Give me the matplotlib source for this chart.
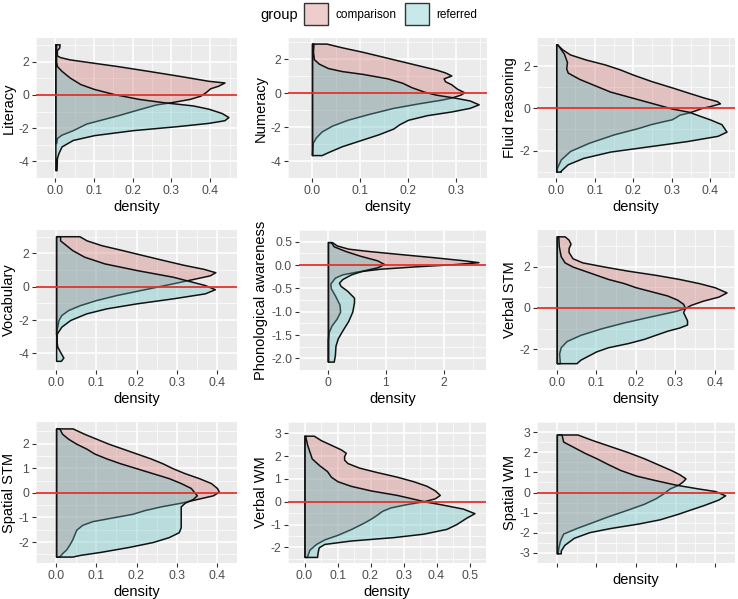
import matplotlib
matplotlib.use("Agg")
import matplotlib.pyplot as plt
from matplotlib.patches import Rectangle

plt.rcParams['font.family'] = ['Liberation Sans', 'DejaVu Sans']
plt.rcParams['axes.unicode_minus'] = False

# (score, density) pairs for each group
literacy_cmp = [(3.05, 0.011), (2.85, 0.010), (2.70, 0.004), (2.38, 0.004), (2.28, 0.012), (2.14, 0.037),
                (1.98, 0.086), (1.74, 0.16), (1.45, 0.24), (1.15, 0.32), (0.85, 0.396), (0.75, 0.437),
                (0.55, 0.42), (0.40, 0.40), (0.16, 0.388), (-0.04, 0.375), (-0.24, 0.347), (-0.44, 0.298),
                (-0.57, 0.26), (-0.83, 0.22), (-1.23, 0.16), (-1.72, 0.08), (-2.12, 0.045), (-2.4, 0.015),
                (-2.6, 0.004), (-2.9, 0.002)]
literacy_ref = [(3.05, 0.002), (2.0, 0.002), (1.74, 0.004), (1.45, 0.016), (1.05, 0.037), (0.65, 0.065),
                (0.36, 0.10), (0.06, 0.15), (-0.24, 0.216), (-0.44, 0.28), (-0.63, 0.355), (-0.83, 0.396),
                (-1.09, 0.43), (-1.33, 0.447), (-1.52, 0.437), (-1.68, 0.396), (-1.88, 0.314), (-2.12, 0.20),
                (-2.42, 0.10), (-2.71, 0.045), (-3.1, 0.016), (-3.5, 0.008), (-3.8, 0.004), (-4.53, 0.003)]

numeracy_cmp = [(2.92, 0.030), (2.70, 0.062), (2.43, 0.106), (2.17, 0.144), (1.91, 0.182), (1.65, 0.22),
                (1.39, 0.258), (1.22, 0.277), (1.04, 0.29), (0.87, 0.274), (0.70, 0.277), (0.52, 0.29),
                (0.26, 0.302), (0.05, 0.317), (-0.09, 0.309), (-0.26, 0.29), (-0.38, 0.27), (-0.61, 0.22),
                (-0.87, 0.169), (-1.22, 0.119), (-1.57, 0.074), (-1.91, 0.042), (-2.26, 0.02), (-2.61, 0.008),
                (-2.96, 0.001), (-3.65, 0.0)]
numeracy_ref = [(2.92, 0.003), (2.43, 0.002), (2.0, 0.004), (1.74, 0.014), (1.48, 0.033), (1.30, 0.062),
                (1.13, 0.106), (0.87, 0.157), (0.61, 0.188), (0.35, 0.207), (0.09, 0.233), (-0.09, 0.258),
                (-0.26, 0.296), (-0.43, 0.328), (-0.66, 0.347), (-0.87, 0.328), (-1.08, 0.29), (-1.30, 0.239),
                (-1.57, 0.20), (-1.83, 0.182), (-2.09, 0.169), (-2.43, 0.138), (-2.78, 0.10), (-3.13, 0.062),
                (-3.48, 0.033), (-3.65, 0.02)]

fluid_cmp = [(3.04, 0.002), (2.8, 0.016), (2.56, 0.036), (2.32, 0.077), (2.09, 0.126), (1.85, 0.166),
             (1.61, 0.199), (1.30, 0.247), (0.98, 0.304), (0.74, 0.345), (0.51, 0.385), (0.35, 0.418),
             (0.24, 0.426), (0.11, 0.40), (0.03, 0.38), (-0.10, 0.36), (-0.19, 0.345), (-0.30, 0.32),
             (-0.42, 0.31), (-0.52, 0.30), (-0.62, 0.275), (-0.75, 0.245), (-0.92, 0.215), (-1.23, 0.15),
             (-1.63, 0.085), (-2.02, 0.036), (-2.42, 0.012), (-2.81, 0.002), (-3.0, 0.001)]
fluid_ref = [(3.04, 0.003), (2.6, 0.02), (2.2, 0.028), (1.9, 0.026), (1.7, 0.03), (1.4, 0.06), (1.1, 0.10),
             (0.8, 0.14), (0.5, 0.20), (0.2, 0.26), (0.0, 0.30), (-0.16, 0.345), (-0.36, 0.375), (-0.52, 0.40),
             (-0.75, 0.43), (-1.1, 0.443), (-1.3, 0.42), (-1.55, 0.34), (-1.8, 0.24), (-2.05, 0.14),
             (-2.35, 0.07), (-2.65, 0.03), (-2.95, 0.012), (-3.0, 0.012)]

vocab_cmp = [(3.03, 0.058), (2.78, 0.076), (2.49, 0.113), (2.2, 0.164), (1.9, 0.215), (1.61, 0.265),
             (1.32, 0.316), (1.07, 0.367), (0.87, 0.396), (0.68, 0.382), (0.45, 0.338), (0.1, 0.27),
             (-0.2, 0.21), (-0.5, 0.15), (-0.8, 0.10), (-1.1, 0.06), (-1.4, 0.03), (-1.7, 0.013),
             (-2.0, 0.006), (-2.5, 0.002), (-2.85, 0.0)]
vocab_ref = [(3.03, 0.01), (2.78, 0.01), (2.2, 0.04), (1.8, 0.07), (1.4, 0.12), (1.0, 0.2), (0.6, 0.29),
             (0.35, 0.33), (0.1, 0.37), (-0.15, 0.395), (-0.4, 0.37), (-0.7, 0.29), (-1.0, 0.2), (-1.3, 0.125),
             (-1.6, 0.075), (-2.0, 0.035), (-2.4, 0.013), (-2.8, 0.002), (-3.2, 0.0005), (-3.6, 0.003),
             (-4.0, 0.012), (-4.25, 0.018), (-4.45, 0.012)]

phon_cmp = [(0.49, 0.07), (0.42, 0.15), (0.35, 0.35), (0.30, 0.7), (0.24, 1.2), (0.17, 1.8), (0.10, 2.35),
            (0.06, 2.6), (0.02, 2.2), (-0.03, 1.5), (-0.08, 0.9), (-0.14, 0.5), (-0.2, 0.25), (-0.27, 0.12),
            (-0.4, 0.04), (-0.5, 0.05), (-0.65, 0.12), (-0.85, 0.2), (-1.0, 0.21), (-1.15, 0.15),
            (-1.3, 0.06), (-1.45, 0.01), (-1.6, 0.0), (-2.07, 0.0)]
phon_ref = [(0.49, 0.05), (0.4, 0.1), (0.3, 0.3), (0.2, 0.55), (0.1, 0.85), (0.02, 0.97), (-0.05, 0.85),
            (-0.12, 0.6), (-0.2, 0.4), (-0.3, 0.25), (-0.38, 0.19), (-0.45, 0.22), (-0.55, 0.33), (-0.7, 0.45),
            (-0.8, 0.45), (-1.0, 0.42), (-1.2, 0.35), (-1.4, 0.25), (-1.57, 0.17), (-1.73, 0.13),
            (-1.93, 0.12), (-2.07, 0.1)]

vstm_cmp = [(3.46, 0.02), (3.3, 0.03), (3.1, 0.035), (2.9, 0.03), (2.7, 0.03), (2.4, 0.04), (2.2, 0.065),
            (2.0, 0.12), (1.8, 0.18), (1.6, 0.25), (1.4, 0.31), (1.2, 0.36), (1.0, 0.40), (0.75, 0.43),
            (0.55, 0.41), (0.35, 0.37), (0.15, 0.34), (0.0, 0.325), (-0.15, 0.30), (-0.4, 0.24),
            (-0.7, 0.17), (-1.0, 0.11), (-1.3, 0.06), (-1.6, 0.025), (-1.9, 0.01), (-2.2, 0.006),
            (-2.67, 0.008)]
vstm_ref = [(3.46, 0.004), (3.0, 0.005), (2.5, 0.01), (2.2, 0.02), (2.0, 0.04), (1.8, 0.07), (1.6, 0.10),
            (1.4, 0.13), (1.2, 0.17), (1.0, 0.20), (0.8, 0.24), (0.6, 0.28), (0.4, 0.305), (0.2, 0.32),
            (0.0, 0.325), (-0.2, 0.32), (-0.4, 0.325), (-0.6, 0.33), (-0.8, 0.33), (-0.95, 0.31),
            (-1.1, 0.28), (-1.3, 0.25), (-1.5, 0.22), (-1.7, 0.18), (-1.9, 0.13), (-2.1, 0.10),
            (-2.3, 0.08), (-2.5, 0.06), (-2.67, 0.05)]

sstm_cmp = [(2.62, 0.041), (2.4, 0.07), (2.2, 0.10), (2.0, 0.13), (1.8, 0.165), (1.6, 0.20), (1.4, 0.235),
            (1.2, 0.265), (1.0, 0.29), (0.8, 0.32), (0.6, 0.355), (0.4, 0.385), (0.2, 0.40), (0.05, 0.405),
            (-0.1, 0.39), (-0.25, 0.35), (-0.4, 0.31), (-0.55, 0.26), (-0.7, 0.22), (-0.85, 0.19),
            (-1.0, 0.14), (-1.15, 0.09), (-1.3, 0.065), (-1.5, 0.05), (-1.7, 0.045), (-1.9, 0.04),
            (-2.1, 0.033), (-2.3, 0.025), (-2.45, 0.015), (-2.59, 0.008)]
sstm_ref = [(2.62, 0.008), (2.4, 0.015), (2.2, 0.03), (2.0, 0.05), (1.8, 0.075), (1.6, 0.095), (1.4, 0.125),
            (1.2, 0.16), (1.0, 0.20), (0.8, 0.24), (0.6, 0.28), (0.4, 0.31), (0.2, 0.335), (0.0, 0.345),
            (-0.1, 0.35), (-0.25, 0.34), (-0.4, 0.32), (-0.55, 0.31), (-0.8, 0.31), (-1.1, 0.31),
            (-1.4, 0.31), (-1.6, 0.305), (-1.8, 0.28), (-2.0, 0.24), (-2.2, 0.18), (-2.4, 0.11),
            (-2.52, 0.06), (-2.59, 0.04)]

vwm_cmp = [(2.9, 0.028), (2.7, 0.05), (2.5, 0.08), (2.3, 0.11), (2.15, 0.125), (2.0, 0.12), (1.85, 0.12),
           (1.7, 0.13), (1.5, 0.165), (1.3, 0.22), (1.1, 0.28), (0.9, 0.33), (0.7, 0.37), (0.5, 0.395),
           (0.3, 0.41), (0.15, 0.395), (0.02, 0.36), (-0.1, 0.31), (-0.25, 0.26), (-0.4, 0.235),
           (-0.56, 0.22), (-0.75, 0.20), (-0.95, 0.175), (-1.2, 0.14), (-1.45, 0.10), (-1.65, 0.06),
           (-1.85, 0.035), (-2.1, 0.015), (-2.42, 0.007)]
vwm_ref = [(2.9, 0.002), (2.5, 0.008), (2.2, 0.015), (1.9, 0.022), (1.6, 0.045), (1.35, 0.068), (1.1, 0.08),
           (0.9, 0.10), (0.7, 0.14), (0.5, 0.20), (0.3, 0.28), (0.1, 0.34), (0.0, 0.37), (-0.1, 0.41),
           (-0.3, 0.48), (-0.5, 0.515), (-0.7, 0.49), (-0.98, 0.46), (-1.19, 0.43), (-1.4, 0.36),
           (-1.55, 0.27), (-1.7, 0.14), (-1.85, 0.06), (-2.0, 0.043), (-2.2, 0.04), (-2.42, 0.038)]

swm_cmp = [(2.88, 0.052), (2.6, 0.09), (2.3, 0.135), (2.0, 0.18), (1.7, 0.22), (1.4, 0.255), (1.1, 0.29),
           (0.9, 0.31), (0.7, 0.325), (0.55, 0.318), (0.39, 0.307), (0.2, 0.285), (-0.03, 0.27),
           (-0.28, 0.25), (-0.56, 0.22), (-0.84, 0.18), (-1.19, 0.128), (-1.47, 0.09), (-1.76, 0.05),
           (-2.04, 0.016), (-2.39, 0.008), (-2.74, 0.004), (-3.02, 0.002)]
swm_ref = [(2.88, 0.012), (2.53, 0.016), (2.25, 0.043), (1.97, 0.07), (1.7, 0.10), (1.4, 0.13), (1.12, 0.16),
           (0.84, 0.20), (0.63, 0.245), (0.39, 0.30), (0.21, 0.354), (0.07, 0.40), (-0.14, 0.425),
           (-0.35, 0.408), (-0.63, 0.37), (-0.84, 0.338), (-1.05, 0.307), (-1.33, 0.26), (-1.54, 0.206),
           (-1.76, 0.136), (-1.97, 0.082), (-2.25, 0.043), (-2.6, 0.019), (-2.88, 0.01), (-3.02, 0.01)]

titles = ["Literacy", "Numeracy", "Fluid reasoning", "Vocabulary", "Phonological awareness",
          "Verbal STM", "Spatial STM", "Verbal WM", "Spatial WM"]
comparison = [literacy_cmp, numeracy_cmp, fluid_cmp, vocab_cmp, phon_cmp, vstm_cmp, sstm_cmp, vwm_cmp, swm_cmp]
referred = [literacy_ref, numeracy_ref, fluid_ref, vocab_ref, phon_ref, vstm_ref, sstm_ref, vwm_ref, swm_ref]
x_breaks = [[0, 0.1, 0.2, 0.3, 0.4], [0, 0.1, 0.2, 0.3], [0, 0.1, 0.2, 0.3, 0.4],
            [0, 0.1, 0.2, 0.3, 0.4], [0, 1, 2], [0, 0.1, 0.2, 0.3, 0.4],
            [0, 0.1, 0.2, 0.3, 0.4], [0, 0.1, 0.2, 0.3, 0.4, 0.5], [0, 0.1, 0.2, 0.3, 0.4]]
y_breaks = [[-4, -2, 0, 2], [-4, -2, 0, 2], [-2, 0, 2],
            [-4, -2, 0, 2], [-2.0, -1.5, -1.0, -0.5, 0.0, 0.5], [-2, 0, 2],
            [-2, -1, 0, 1, 2], [-2, -1, 0, 1, 2, 3], [-3, -2, -1, 0, 1, 2, 3]]
group_names = ["comparison", "referred"]

# layout: panel boxes in pixels (left, top, right, bottom)
W, H = 738, 599
boxes = [(36, 38, 237, 178), (288, 38, 487, 178), (537, 38, 735, 178),
         (36, 230, 237, 370), (299, 230, 486, 370), (537, 230, 735, 370),
         (36, 422, 237, 563), (288, 422, 486, 563), (537, 422, 735, 563)]

# muted fills, as they come out in the reference
PINK = (209 / 255, 115 / 255, 112 / 255)
TEAL = (95 / 255, 192 / 255, 195 / 255)
ALPHA = 0.35


def minor_of(br):
    step = br[1] - br[0]
    return [br[0] - step / 2] + [b + step / 2 for b in br]


fig = plt.figure(figsize=(W / 100, H / 100), dpi=100)

for i in range(9):
    l, t, r, b = boxes[i]
    ax = fig.add_axes([l / W, 1 - b / H, (r - l) / W, (b - t) / H])
    ax.set_facecolor('#EBEBEB')
    ax.set_axisbelow(True)
    for s in ax.spines.values():
        s.set_visible(False)

    for pts, col in ((comparison[i], PINK), (referred[i], TEAL)):
        ys = [p[0] for p in pts]
        ds = [p[1] for p in pts]
        ax.fill_betweenx(ys, 0, ds, facecolor=col + (ALPHA,), edgecolor='#111111',
                         linewidth=1.1, zorder=2)
    ax.axhline(0, color='#E0332B', linewidth=1.3, zorder=3)

    all_y = [p[0] for p in comparison[i] + referred[i]]
    all_d = [p[1] for p in comparison[i] + referred[i]]
    ylo, yhi = min(all_y), max(all_y)
    dmax = max(all_d)
    ax.set_ylim(ylo - 0.05 * (yhi - ylo), yhi + 0.05 * (yhi - ylo))
    ax.set_xlim(-0.05 * dmax, 1.05 * dmax)

    xb, yb = x_breaks[i], y_breaks[i]
    ax.set_xticks(xb)
    ax.set_yticks(yb)
    ax.set_xticks(minor_of(xb), minor=True)
    ax.set_yticks(minor_of(yb), minor=True)
    if titles[i] == "Phonological awareness":
        ax.set_xticklabels([f"{v:g}" for v in xb])
        ax.set_yticklabels([f"{v:.1f}" for v in yb])
    else:
        ax.set_xticklabels([f"{v:.1f}" for v in xb])
        ax.set_yticklabels([f"{v:g}" for v in yb])
    if titles[i] == "Spatial WM":
        ax.set_xticklabels([])
    ax.grid(which='major', color='white', linewidth=1.1)
    ax.grid(which='minor', color='white', linewidth=0.5)
    ax.tick_params(which='major', length=3, width=0.8, color='#333333',
                   labelcolor='#4D4D4D', labelsize=8.8, pad=2)
    ax.tick_params(which='minor', length=0)
    ax.set_xlabel("density", fontsize=10.5, labelpad=2)
    ax.set_ylabel(titles[i], fontsize=10.5, labelpad=2)

# legend on top
fig.text(260 / W, 1 - 15 / H, "group", fontsize=10.5, va='center', ha='left')
leg_x = [(304, 336), (405, 436)]
for (kx, tx), col, name in zip(leg_x, (PINK, TEAL), group_names):
    fig.add_artist(Rectangle((kx / W, 1 - 25 / H), 24 / W, 22 / H, transform=fig.transFigure,
                             facecolor=col + (ALPHA,), edgecolor='#333333', linewidth=1.0))
    fig.text(tx / W, 1 - 15 / H, name, fontsize=8.5, va='center', ha='left')

fig.savefig("out.png", dpi=100)
